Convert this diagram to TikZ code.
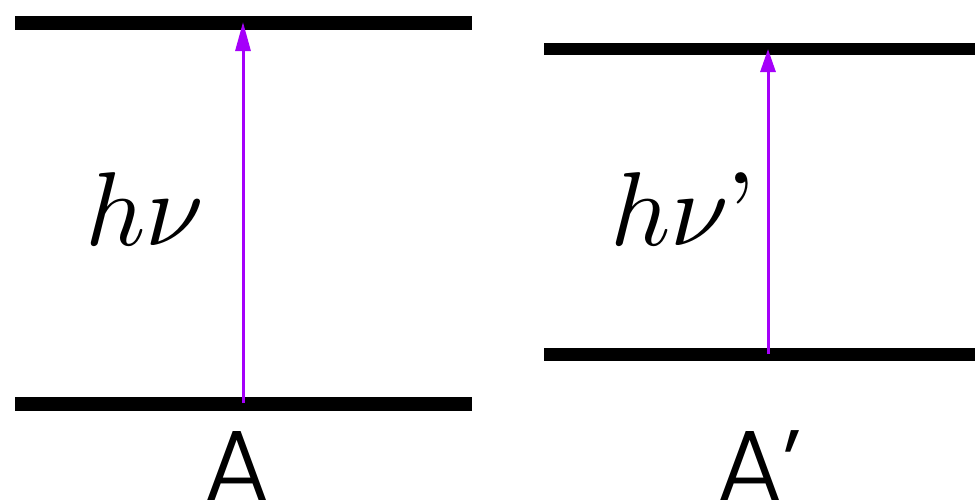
\documentclass[tikz,border=0pt]{standalone}
\usepackage{fontspec}
\usetikzlibrary{arrows.meta}
\IfFontExistsTF{Poppins Light}{\newfontfamily\labelfont{Poppins Light}}{\newfontfamily\labelfont{Poppins}}
\definecolor{photon}{RGB}{165,0,250}
\tikzset{
  level/.style={line width=14pt},
  levelb/.style={line width=12.5pt},
  photonarrow/.style={draw=photon, line width=3pt, -{Triangle[length=29pt,width=15pt]}},
  photonarrowb/.style={draw=photon, line width=3pt, -{Triangle[length=23pt,width=15pt]}},
  energy/.style={scale=10.5, inner sep=0pt, anchor=base},
  state/.style={font=\labelfont, scale=10, inner sep=0pt, anchor=north}
}
\begin{document}
\begin{tikzpicture}[x=1pt,y=-1pt]
\useasboundingbox (0,0) rectangle (975,499);
% left system
\draw[level] (15,22.5) -- (472,22.5);
\draw[level] (15,403.5) -- (472,403.5);
\coordinate (lbot) at (243,403);
\coordinate (ltop) at (243,22);
\draw[photonarrow] (lbot) -- (ltop);
\node[energy] (hnu) at (145,245) {$h\nu$};
\node[state] (A) at (237.5,429) {A};
% right system
\draw[levelb] (544,49) -- (985,49);
\draw[levelb] (544,354.5) -- (985,354.5);
\coordinate (rbot) at (768,354);
\coordinate (rtop) at (768,49);
\draw[photonarrowb] (rbot) -- (rtop);
\node[energy, anchor=base west] (hnup) at (608,245) {$h\nu$\kern-0.03em\rmfamily’};
\node[state] (Ap) at (760,429) {A’};
\end{tikzpicture}
\end{document}
